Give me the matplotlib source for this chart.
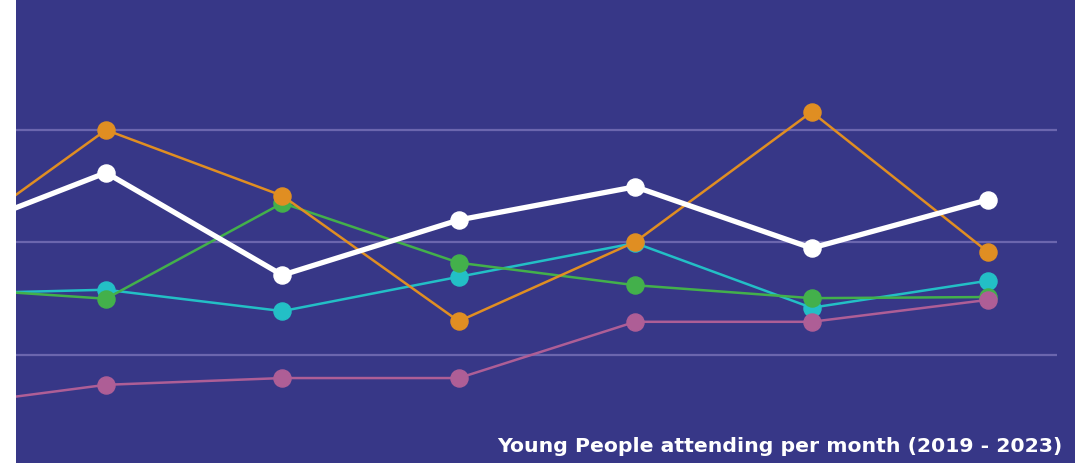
import matplotlib
matplotlib.use("Agg")
import matplotlib.pyplot as plt
from matplotlib.patches import Rectangle

# six yearly points plus one leading point that sits off the left edge
months = [0, 1, 2, 3, 4, 5, 6]
total = [40.2, 52.4, 34.2, 44.0, 49.9, 39.0, 47.6]
orange = [37.4, 60.0, 48.3, 26.0, 40.1, 63.2, 38.3]
cyan = [30.8, 31.6, 27.8, 33.9, 39.9, 28.4, 33.2]
green = [32.1, 30.0, 47.0, 36.4, 32.4, 30.1, 30.3]
pink = [10.6, 14.7, 15.9, 15.9, 25.9, 25.9, 29.8]
grid_values = [20, 40, 60]
title = "Young People attending per month (2019 - 2023)"

BG = "#373787"
W, H = 1075, 463

fig = plt.figure(figsize=(W / 100, H / 100), dpi=100, facecolor=BG)
ax = fig.add_axes([16 / W, 0, (1057 - 16) / W, 1])
ax.set_facecolor(BG)
ax.set_xlim(0.49, 6.391)
ax.set_ylim(0.8, 83.1)

for g in grid_values:
    ax.axhline(g, color="#6b66ae", lw=1.6, zorder=1)

series = [
    (cyan, "#23bfc6", 1.8),
    (green, "#43b04b", 1.8),
    (pink, "#ae5e96", 1.8),
    (orange, "#e08e22", 1.8),
    (total, "#ffffff", 3.8),
]
for z, (vals, col, lw) in enumerate(series):
    ax.plot(months, vals, color=col, lw=lw, marker="o", ms=12.3, zorder=3 + z,
            solid_joinstyle="miter")

ax.set_axis_off()

# white strip on the left edge
fig.patches.append(Rectangle((0, 0), 16 / W, 1, transform=fig.transFigure,
                             facecolor="white", edgecolor="none", zorder=10))

fig.text(1062 / W, 1 - 452 / H, title, color="white", fontsize=14.7,
         fontweight="bold", ha="right", va="baseline", family="DejaVu Sans")

fig.savefig("out.png", dpi=100, facecolor=BG)
